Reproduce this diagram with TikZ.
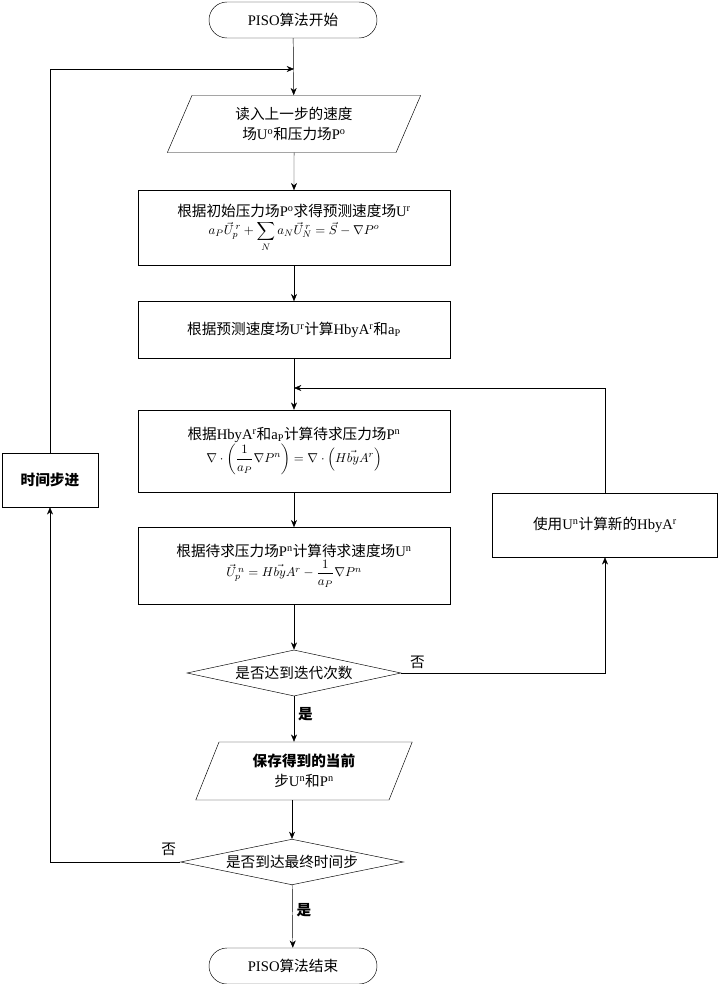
\documentclass[tikz,border=0pt]{standalone}
\usepackage{fontspec}
\usepackage{amsmath}
\setmainfont{Liberation Serif}
\newfontfamily\cjk{Noto Sans CJK SC}
\newcommand{\zh}[1]{{\cjk #1}}
\newcommand{\eqsize}{\fontsize{11}{13}\selectfont}
\usetikzlibrary{shapes.geometric,arrows.meta}

\tikzset{
  every node/.style={font=\fontsize{12.5}{17}\selectfont, align=center},
  term/.style={rectangle, rounded corners=0.54cm, draw, minimum width=5.04cm, minimum height=1.08cm},
  box/.style={rectangle, draw, minimum width=9.36cm},
  io/.style={trapezium, trapezium left angle=70, trapezium right angle=110, trapezium stretches=true, draw},
  dec/.style={diamond, draw, inner sep=0pt, aspect=3.6},
  flow/.style={-{Stealth[length=2.2mm,width=1.8mm]}}
}

\begin{document}
\begin{tikzpicture}
  [x=0.03cm,y=-0.03cm]
  \useasboundingbox (0,0) rectangle (719,984);

  \node[term] (start) at (293,20) {PISO\zh{算法开始}};
  \node[io,minimum width=7.6cm,minimum height=1.71cm] (read) at (294,124) {\zh{读入上一步的速度}\\\zh{场}U$^{\mathrm{o}}$\zh{和压力场}P$^{\mathrm{o}}$};
  \node[box,minimum height=2.25cm] (pred) at (294,228) {\zh{根据初始压力场}P$^{\mathrm{o}}$\zh{求得预测速度场}U$^{\mathrm{r}}$\\[-2pt]
    {\eqsize $a_P\vec{U}_p^{\,r}+\displaystyle\sum_N a_N\vec{U}_N^{\,r}=\vec{S}-\nabla P^o$}};
  \node[box,minimum height=1.71cm] (hbya) at (294,330) {\zh{根据预测速度场}U$^{\mathrm{r}}$\zh{计算}HbyA$^{\mathrm{r}}$\zh{和}a$_{\mathrm{P}}$};
  \node[box,minimum height=2.46cm] (peqn) at (294,451) {\zh{根据}HbyA$^{\mathrm{r}}$\zh{和}a$_{\mathrm{P}}$\zh{计算待求压力场}P$^{\mathrm{n}}$\\
    {\eqsize $\nabla\cdot\left(\dfrac{1}{a_P}\nabla P^n\right)=\nabla\cdot\left(H\vec{by}A^r\right)$}};
  \node[box,minimum height=2.31cm] (ucor) at (294,566) {\zh{根据待求压力场}P$^{\mathrm{n}}$\zh{计算待求速度场}U$^{\mathrm{n}}$\\
    {\eqsize $\vec{U}_p^{\,n}=H\vec{by}A^r-\dfrac{1}{a_P}\nabla P^n$}};
  \node[dec,minimum width=6.42cm] (iter) at (294,673) {\zh{是否达到迭代次数}};
  \node[io,minimum width=6.5cm,minimum height=1.74cm] (save) at (304,771) {\zh{\textbf{保存得到的当前}}\\\zh{步}U$^{\mathrm{n}}$\zh{和}P$^{\mathrm{n}}$};
  \node[dec,minimum width=6.69cm,aspect=4.1] (tend) at (292,862) {\zh{是否到达最终时间步}};
  \node[term] (stop) at (293,966) {PISO\zh{算法结束}};
  \node[box,minimum width=2.88cm,minimum height=1.62cm] (tstep) at (50,480) {\zh{\textbf{时间步进}}};
  \node[box,minimum width=6.75cm,minimum height=1.92cm] (newh) at (605,525) {\zh{使用}U$^{\mathrm{n}}$\zh{计算新的}HbyA$^{\mathrm{r}}$};

  \coordinate (c1) at (294,69);
  \coordinate (c2) at (294,388);
  \draw[flow] (start) -- (read);
  \draw[flow] (read) -- (pred);
  \draw[flow] (pred) -- (hbya);
  \draw (hbya) -- (c2);
  \draw[flow] (c2) -- (peqn);
  \draw[flow] (peqn) -- (ucor);
  \draw[flow] (ucor) -- (iter);
  \draw[flow] (iter.south) -- node[right,pos=0.4]{\zh{\textbf{是}}} (iter.south |- save.north);
  \draw[flow] (save.south -| tend.north) -- (tend);
  \draw[flow] (tend) -- node[right,pos=0.4]{\zh{\textbf{是}}} (stop);
  \draw[flow] (iter.east) -- node[above,pos=0.08]{\zh{否}} (iter.east -| newh) -- (newh);
  \draw[flow] (newh) |- (c2);
  \draw[flow] (tend.west) -- node[above left,pos=0.0,yshift=2pt]{\zh{否}} (tend.west -| tstep) -- (tstep);
  \draw[flow] (tstep) |- (c1);
\end{tikzpicture}
\end{document}
